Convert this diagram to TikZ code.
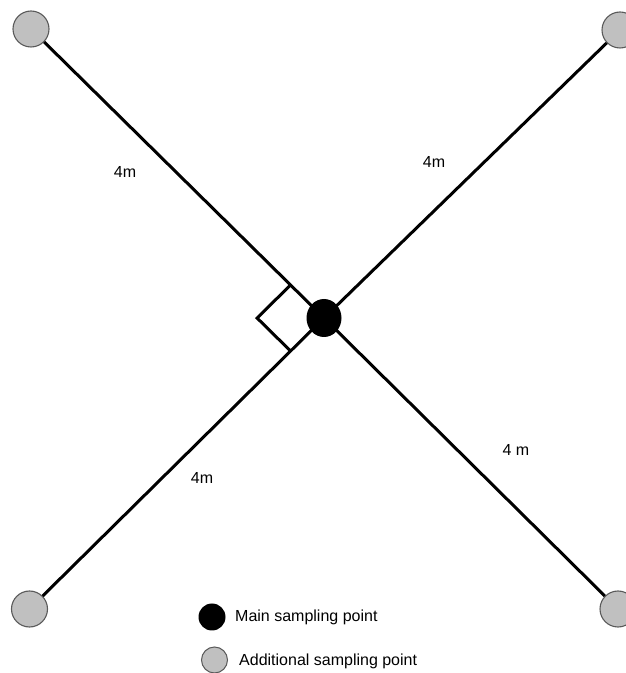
\documentclass[tikz,border=0pt]{standalone}
\usepackage{fontspec}
\setmainfont{Liberation Sans}
\usetikzlibrary{calc,shapes.geometric}
\definecolor{ptgray}{RGB}{192,192,192}
\definecolor{ptedge}{RGB}{90,90,90}
\begin{document}
\begin{tikzpicture}[x=1pt,y=1pt,
  extra/.style={circle,fill=ptgray,draw=ptedge,line width=1.1pt,minimum size=36pt,inner sep=0pt},
  mainpt/.style={ellipse,fill=black,minimum width=35pt,minimum height=38pt,inner sep=0pt},
  legmain/.style={circle,fill=black,minimum size=27pt,inner sep=0pt},
  legextra/.style={circle,fill=ptgray,draw=ptedge,line width=1pt,minimum size=26pt,inner sep=0pt},
  arm/.style={line width=3pt},
  lab/.style={font=\fontsize{16}{19}\selectfont,inner sep=0pt}]
\useasboundingbox (0,0) rectangle (626,673);
% positions (y = 673 - pixel row)
\coordinate (cc) at (324,355);
\coordinate (ctl) at (31,644);
\coordinate (ctr) at (620,643);
\coordinate (cbl) at (29.5,64);
\coordinate (cbr) at (618,64);
% arms
\draw[arm] (cc) -- (ctl);
\draw[arm] (cc) -- (ctr);
\draw[arm] (cc) -- (cbl);
\draw[arm] (cc) -- (cbr);
% right-angle mark
\coordinate (ra1) at ($(cc)!47pt!(ctl)$);
\coordinate (ra2) at ($(cc)!47pt!(cbl)$);
\coordinate (ra3) at ($(ra1)+(ra2)-(cc)$);
\draw[line width=3pt,line join=miter] (ra1) -- (ra3) -- (ra2);
% points
\node[extra] (tl) at (ctl) {};
\node[extra] (tr) at (ctr) {};
\node[extra] (bl) at (cbl) {};
\node[extra] (br) at (cbr) {};
\node[mainpt] (c) at (cc) {};
% labels
\node[lab] (l1) at (125,501) {4m};
\node[lab] (l2) at (434,511) {4m};
\node[lab] (l3) at (516,223) {4 m};
\node[lab] (l4) at (202,195) {4m};
% legend
\node[legmain] (lm) at (212,56) {};
\node[lab,anchor=west] (lmt) at (235,56) {Main sampling point};
\node[legextra] (le) at (214.5,13) {};
\node[lab,anchor=west] (let) at (239,12) {Additional sampling point};
\end{tikzpicture}
\end{document}
